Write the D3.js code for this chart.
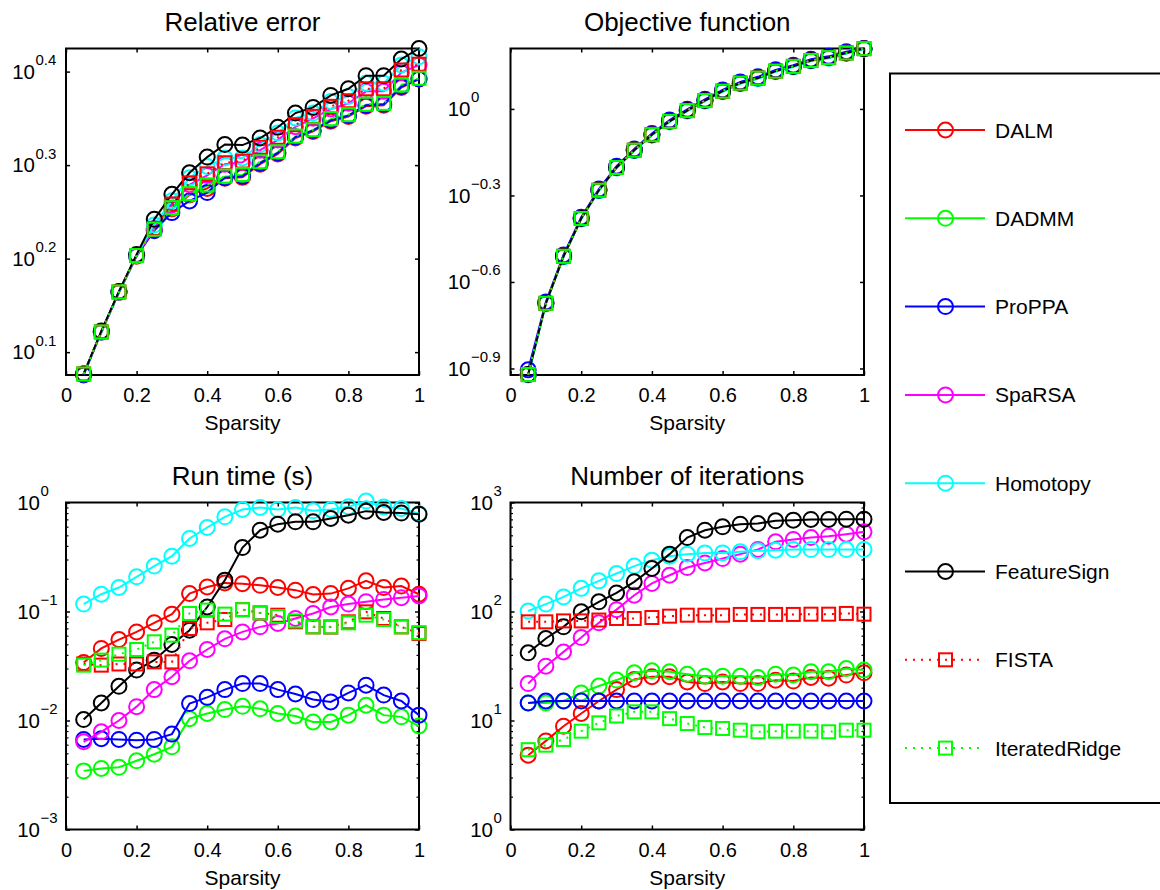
<!DOCTYPE html>
<html>
<head>
<meta charset="utf-8">
<script src="https://cdn.jsdelivr.net/npm/d3@7"></script>
<style>
  body { margin: 0; background: #fff; }
  svg { display: block; }
  text { font-family: "Liberation Sans", Arial, Helvetica, sans-serif; fill: #000; }
</style>
</head>
<body>
<svg id="fig" width="1160" height="890"></svg>
<script>
// ---- data -----------------------------------------------------------------
const sparsity = [0.05, 0.10, 0.15, 0.20, 0.25, 0.30, 0.35, 0.40, 0.45, 0.50,
                  0.55, 0.60, 0.65, 0.70, 0.75, 0.80, 0.85, 0.90, 0.95, 1.00];

const methods = ["DALM", "DADMM", "ProPPA", "SpaRSA", "Homotopy", "FeatureSign", "FISTA", "IteratedRidge"];
const methodColors = ["#ff0000", "#00ff00", "#0000ff", "#ff00ff", "#00ffff", "#000000", "#ff0000", "#00ff00"];
const methodMarkers = ["circle", "circle", "circle", "circle", "circle", "circle", "square", "square"];
const methodDotted = [false, false, false, false, false, false, true, true];

// rows follow the order of `methods`
const relativeError = [
  [1.193, 1.322, 1.458, 1.594, 1.702, 1.791, 1.854, 1.884, 1.932, 1.936, 2.000, 2.051, 2.133, 2.168, 2.223, 2.249, 2.307, 2.312, 2.415, 2.466],
  [1.193, 1.323, 1.460, 1.596, 1.704, 1.795, 1.857, 1.897, 1.939, 1.947, 2.009, 2.059, 2.140, 2.174, 2.234, 2.256, 2.315, 2.320, 2.428, 2.468],
  [1.190, 1.323, 1.460, 1.597, 1.698, 1.775, 1.827, 1.865, 1.934, 1.941, 2.005, 2.056, 2.138, 2.173, 2.228, 2.254, 2.312, 2.318, 2.421, 2.466],
  [1.193, 1.323, 1.460, 1.597, 1.707, 1.809, 1.901, 1.945, 2.000, 2.009, 2.070, 2.123, 2.193, 2.239, 2.291, 2.323, 2.393, 2.393, 2.506, 2.553],
  [1.193, 1.323, 1.460, 1.598, 1.722, 1.828, 1.934, 1.989, 2.031, 2.031, 2.099, 2.160, 2.241, 2.268, 2.334, 2.363, 2.441, 2.441, 2.553, 2.606],
  [1.193, 1.326, 1.462, 1.601, 1.746, 1.857, 1.958, 2.035, 2.099, 2.096, 2.133, 2.190, 2.268, 2.300, 2.369, 2.408, 2.487, 2.487, 2.591, 2.659],
  [1.193, 1.323, 1.460, 1.597, 1.707, 1.813, 1.910, 1.953, 2.007, 2.015, 2.085, 2.137, 2.204, 2.250, 2.306, 2.338, 2.408, 2.408, 2.522, 2.558],
  [1.193, 1.323, 1.460, 1.597, 1.704, 1.797, 1.860, 1.900, 1.942, 1.950, 2.012, 2.062, 2.143, 2.177, 2.237, 2.259, 2.318, 2.323, 2.431, 2.471]
];

const objectiveFunction = [
  [0.1199, 0.2118, 0.3083, 0.4169, 0.5224, 0.6266, 0.7194, 0.8140, 0.9057, 0.9867, 1.0691, 1.1522, 1.2285, 1.2794, 1.3521, 1.4044, 1.4723, 1.5066, 1.5631, 1.6181],
  [0.1199, 0.2118, 0.3083, 0.4169, 0.5224, 0.6266, 0.7194, 0.8140, 0.9057, 0.9867, 1.0691, 1.1522, 1.2285, 1.2794, 1.3521, 1.4044, 1.4723, 1.5066, 1.5631, 1.6181],
  [0.1245, 0.2140, 0.3115, 0.4210, 0.5275, 0.6330, 0.7265, 0.8220, 0.9150, 0.9965, 1.0800, 1.1640, 1.2410, 1.2920, 1.3660, 1.4185, 1.4870, 1.5215, 1.5790, 1.6200],
  [0.1199, 0.2118, 0.3083, 0.4169, 0.5224, 0.6266, 0.7194, 0.8140, 0.9057, 0.9867, 1.0691, 1.1522, 1.2285, 1.2794, 1.3521, 1.4044, 1.4723, 1.5066, 1.5631, 1.6181],
  [0.1195, 0.2108, 0.3068, 0.4148, 0.5198, 0.6235, 0.7158, 0.8100, 0.9012, 0.9818, 1.0638, 1.1464, 1.2224, 1.2730, 1.3453, 1.3974, 1.4649, 1.4991, 1.5553, 1.6100],
  [0.1199, 0.2118, 0.3083, 0.4169, 0.5224, 0.6266, 0.7194, 0.8140, 0.9057, 0.9867, 1.0691, 1.1522, 1.2285, 1.2794, 1.3521, 1.4044, 1.4723, 1.5066, 1.5631, 1.6181],
  [0.1199, 0.2118, 0.3083, 0.4169, 0.5224, 0.6266, 0.7194, 0.8140, 0.9057, 0.9867, 1.0691, 1.1522, 1.2285, 1.2794, 1.3521, 1.4044, 1.4723, 1.5066, 1.5631, 1.6181],
  [0.1199, 0.2118, 0.3083, 0.4169, 0.5224, 0.6266, 0.7194, 0.8140, 0.9057, 0.9867, 1.0691, 1.1522, 1.2285, 1.2794, 1.3521, 1.4044, 1.4723, 1.5066, 1.5631, 1.6181]
];

const runTime = [
  [0.0340, 0.0458, 0.0553, 0.0650, 0.0787, 0.0946, 0.146, 0.168, 0.183, 0.180, 0.174, 0.166, 0.157, 0.143, 0.146, 0.163, 0.191, 0.166, 0.171, 0.144],
  [0.00345, 0.00363, 0.00372, 0.00427, 0.00490, 0.00573, 0.0104, 0.0116, 0.0126, 0.0135, 0.0128, 0.0116, 0.0110, 0.0097, 0.0097, 0.0112, 0.0138, 0.0112, 0.0108, 0.0089],
  [0.0067, 0.0068, 0.0067, 0.0066, 0.0067, 0.0075, 0.0143, 0.0163, 0.0192, 0.0218, 0.0218, 0.0192, 0.0175, 0.0156, 0.0148, 0.0179, 0.0211, 0.0171, 0.0151, 0.0112],
  [0.00637, 0.00787, 0.0100, 0.0134, 0.0192, 0.0252, 0.0353, 0.0448, 0.0561, 0.0650, 0.0723, 0.0776, 0.0863, 0.0959, 0.110, 0.117, 0.123, 0.129, 0.134, 0.139],
  [0.117, 0.144, 0.166, 0.208, 0.261, 0.322, 0.468, 0.590, 0.739, 0.863, 0.900, 0.863, 0.900, 0.839, 0.863, 0.912, 1.030, 0.910, 0.880, 0.790],
  [0.0102, 0.0145, 0.0206, 0.0290, 0.0358, 0.0498, 0.0674, 0.110, 0.194, 0.386, 0.557, 0.633, 0.665, 0.665, 0.713, 0.765, 0.833, 0.810, 0.800, 0.782],
  [0.0330, 0.0322, 0.0330, 0.0330, 0.0345, 0.0345, 0.0698, 0.0787, 0.0845, 0.104, 0.0970, 0.0925, 0.0804, 0.0723, 0.0720, 0.0804, 0.0993, 0.0863, 0.0723, 0.0629],
  [0.0322, 0.0358, 0.0406, 0.0448, 0.0527, 0.0607, 0.0959, 0.103, 0.0946, 0.104, 0.0970, 0.0900, 0.0820, 0.0723, 0.0723, 0.0787, 0.0925, 0.0845, 0.0723, 0.0640]
];

const iterations = [
  [4.8, 6.5, 8.87, 11.6, 15.1, 19.2, 23.8, 25.2, 25.2, 22.6, 21.8, 22.6, 21.8, 21.8, 23.4, 23.0, 24.8, 24.4, 26.1, 27.4],
  [14.5, 14.5, 15.1, 17.9, 20.7, 23.5, 27.4, 28.6, 28.0, 26.6, 25.5, 25.5, 25.5, 24.8, 26.6, 26.1, 28.0, 28.0, 30.0, 29.0],
  [14.5, 15.1, 15.1, 15.1, 15.1, 15.1, 15.1, 15.1, 15.1, 15.1, 15.1, 15.1, 15.1, 15.1, 15.1, 15.1, 15.1, 15.1, 15.1, 15.1],
  [21.8, 31.5, 42.6, 57.7, 78.7, 104, 141, 181, 215, 253, 279, 306, 336, 371, 436, 458, 477, 491, 512, 538],
  [101, 117, 136, 163, 191, 223, 261, 296, 322, 336, 345, 345, 353, 360, 365, 370, 370, 370, 370, 370],
  [41.8, 56.5, 72.3, 99.3, 122.6, 148, 187, 248, 336, 477, 557, 598, 633, 642, 679, 689, 699, 699, 703, 703],
  [80.4, 80.4, 82.0, 82.0, 83.5, 86.3, 86.3, 88.1, 90.6, 92.5, 92.5, 92.5, 94.0, 94.0, 94.0, 94.0, 94.5, 94.5, 96.0, 94.5],
  [5.4, 5.94, 6.7, 7.98, 9.52, 11.0, 12.0, 12.0, 10.4, 9.38, 8.62, 8.45, 8.15, 7.88, 7.98, 7.98, 7.98, 7.88, 8.15, 8.15]
];

const xTickValues = [0, 0.2, 0.4, 0.6, 0.8, 1];
const xTickLabels = ["0", "0.2", "0.4", "0.6", "0.8", "1"];

// y ticks are powers of ten; the exponent text is drawn as a superscript
const relErrTickExp = [0.1, 0.2, 0.3, 0.4];
const relErrTickLabels = ["0.1", "0.2", "0.3", "0.4"];
const objTickExp = [-0.9, -0.6, -0.3, 0];
const objTickLabels = ["\u22120.9", "\u22120.6", "\u22120.3", "0"];
const timeTickExp = [-3, -2, -1, 0];
const timeTickLabels = ["\u22123", "\u22122", "\u22121", "0"];
const iterTickExp = [0, 1, 2, 3];
const iterTickLabels = ["0", "1", "2", "3"];

// ---- layout ---------------------------------------------------------------
const panels = [
  { title: "Relative error", data: relativeError, left: 66, top: 48.5, width: 353, height: 326.5,
    domain: null, tickExp: relErrTickExp, tickLabels: relErrTickLabels, baseEndGap: 31, minor: false },
  { title: "Objective function", data: objectiveFunction, left: 510.5, top: 48.5, width: 353.5, height: 326.5,
    domain: null, tickExp: objTickExp, tickLabels: objTickLabels, baseEndGap: 40, minor: false },
  { title: "Run time (s)", data: runTime, left: 66, top: 502.5, width: 353, height: 327,
    domain: [1e-3, 1], tickExp: timeTickExp, tickLabels: timeTickLabels, baseEndGap: 26, minor: true },
  { title: "Number of iterations", data: iterations, left: 510.5, top: 502.5, width: 353.5, height: 327,
    domain: [1, 1000], tickExp: iterTickExp, tickLabels: iterTickLabels, baseEndGap: 17.5, minor: true }
];

const svg = d3.select("#fig");
svg.append("rect").attr("width", 1160).attr("height", 890).attr("fill", "#fff");

const CIRCLE_R = 7.5;
const SQUARE = 13;

function drawMarker(g, kind, cx, cy, color) {
  if (kind === "circle") {
    g.append("circle").attr("cx", cx).attr("cy", cy).attr("r", CIRCLE_R)
      .attr("fill", "none").attr("stroke", color).attr("stroke-width", 2);
  } else {
    g.append("rect").attr("x", cx - SQUARE / 2).attr("y", cy - SQUARE / 2)
      .attr("width", SQUARE).attr("height", SQUARE)
      .attr("fill", "none").attr("stroke", color).attr("stroke-width", 2);
  }
}

panels.forEach(p => {
  const right = p.left + p.width, bottom = p.top + p.height;
  const x = d3.scaleLinear().domain([0, 1]).range([p.left, right]);
  const allVals = p.data.flat();
  const y = d3.scaleLog().domain(p.domain || d3.extent(allVals)).range([bottom, p.top]);
  const g = svg.append("g");

  // title
  g.append("text").attr("x", (p.left + right) / 2).attr("y", p.top - 17.8)
    .attr("text-anchor", "middle").attr("font-size", 26).text(p.title);

  // x axes (ticks point inward on both bottom and top)
  const xb = g.append("g").attr("transform", `translate(0,${bottom})`)
    .call(d3.axisBottom(x).tickValues(xTickValues).tickSize(-4).tickPadding(12.8)
      .tickFormat((d, i) => xTickLabels[i]));
  const xt = g.append("g").attr("transform", `translate(0,${p.top})`)
    .call(d3.axisTop(x).tickValues(xTickValues).tickSize(-4).tickFormat(""));
  [xb, xt].forEach(a => {
    a.select(".domain").remove();
    a.selectAll("line").attr("stroke", "#000").attr("stroke-width", 1.5);
  });
  xb.selectAll("text").attr("font-size", 20).attr("font-family", "Liberation Sans, Arial, sans-serif").attr("fill", "#000");

  // y axes on both sides
  const tickVals = p.tickExp.map(e => Math.pow(10, e));
  const yl = g.append("g").attr("transform", `translate(${p.left},0)`)
    .call(d3.axisLeft(y).tickValues(tickVals).tickSize(-4).tickFormat(""));
  const yr = g.append("g").attr("transform", `translate(${right},0)`)
    .call(d3.axisRight(y).tickValues(tickVals).tickSize(-4).tickFormat(""));
  [yl, yr].forEach(a => {
    a.select(".domain").remove();
    a.selectAll("line").attr("stroke", "#000").attr("stroke-width", 1.5);
  });

  if (p.minor) {
    const [d0, d1] = y.domain().map(v => Math.round(Math.log10(v)));
    const minorVals = [];
    for (let k = d0; k < d1; k++) for (let m = 2; m <= 9; m++) minorVals.push(m * Math.pow(10, k));
    const ml = g.append("g").attr("transform", `translate(${p.left},0)`)
      .call(d3.axisLeft(y).tickValues(minorVals).tickSize(-2.5).tickFormat(""));
    const mr = g.append("g").attr("transform", `translate(${right},0)`)
      .call(d3.axisRight(y).tickValues(minorVals).tickSize(-2.5).tickFormat(""));
    [ml, mr].forEach(a => {
      a.select(".domain").remove();
      a.selectAll("line").attr("stroke", "#000").attr("stroke-width", 1.2);
    });
  }

  // y tick labels: "10" with a raised exponent
  tickVals.forEach((v, i) => {
    const ty = y(v);
    const xEnd = p.left - p.baseEndGap;
    g.append("text").attr("x", xEnd).attr("y", ty + 7.3)
      .attr("text-anchor", "end").attr("font-size", 20.5).text("10");
    g.append("text").attr("x", xEnd + 0.5).attr("y", ty - 6.5)
      .attr("text-anchor", "start").attr("font-size", 15).text(p.tickLabels[i]);
  });

  // x label
  g.append("text").attr("x", (p.left + right) / 2).attr("y", bottom + 55)
    .attr("text-anchor", "middle").attr("font-size", 21).text("Sparsity");

  // frame
  g.append("rect").attr("x", p.left).attr("y", p.top).attr("width", p.width).attr("height", p.height)
    .attr("fill", "none").attr("stroke", "#000").attr("stroke-width", 2);

  // series
  const line = d3.line();
  methods.forEach((m, i) => {
    const vals = p.data[i];
    const pts = sparsity.map((s, j) => [x(s), y(vals[j])]);
    const path = g.append("path").attr("d", line(pts)).attr("fill", "none")
      .attr("stroke", methodColors[i]).attr("stroke-width", 2);
    if (methodDotted[i]) path.attr("stroke-dasharray", "2,6");
    pts.forEach(([cx, cy]) => drawMarker(g, methodMarkers[i], cx, cy, methodColors[i]));
  });
});

// ---- legend ---------------------------------------------------------------
const leg = svg.append("g");
leg.append("rect").attr("x", 890).attr("y", 73.5).attr("width", 300).attr("height", 729.5)
  .attr("fill", "#fff").attr("stroke", "#000").attr("stroke-width", 2);
methods.forEach((m, i) => {
  const ly = 130 + i * 88.3;
  const ln = leg.append("line").attr("x1", 905).attr("x2", 985).attr("y1", ly).attr("y2", ly)
    .attr("stroke", methodColors[i]).attr("stroke-width", 2);
  if (methodDotted[i]) ln.attr("stroke-dasharray", "2,6");
  drawMarker(leg, methodMarkers[i], 945.5, ly, methodColors[i]);
  leg.append("text").attr("x", 995).attr("y", ly + 7.5).attr("font-size", 21).text(m);
});
</script>
</body>
</html>
